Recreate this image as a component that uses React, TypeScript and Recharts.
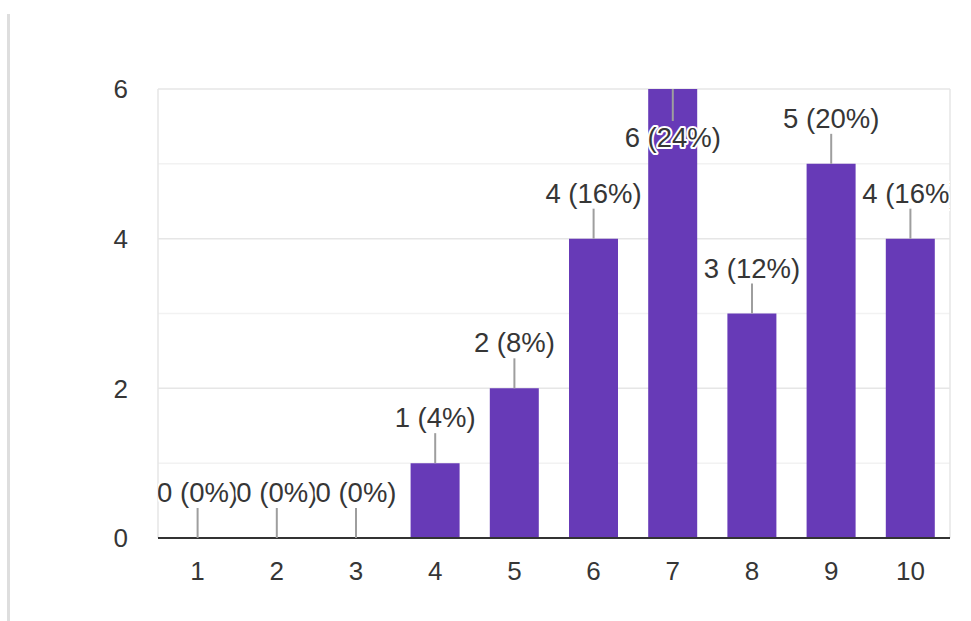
import { ComposedChart, Bar, Line, XAxis, YAxis, CartesianGrid } from 'recharts'

const ratings = ['1', '2', '3', '4', '5', '6', '7', '8', '9', '10']
const responses = [0, 0, 0, 1, 2, 4, 6, 3, 5, 4]
const majorTicks = [0, 2, 4, 6]
const minorTicks = [1, 3, 5]

const totalResponses = responses.reduce((a, b) => a + b, 0)
const data = ratings.map((rating, i) => ({ rating, count: responses[i] }))

const WIDTH = 971
const HEIGHT = 621
const MARGIN = { top: 89, right: 21, left: 98, bottom: 43 }
const PLOT_LEFT = MARGIN.left + 60
const PLOT_RIGHT = WIDTH - MARGIN.right
const PLOT_TOP = MARGIN.top

const FONT = '"Liberation Sans", Arial, sans-serif'
const TEXT = '#363636'
const PURPLE = '#673ab7'

// value label with a short leader line; drawn as the "dot" of an invisible line
// so that zero counts get a label too
function BarLabel(props: any) {
  const cx = Number(props.cx)
  const y = Number(props.cy)
  const value = Number(props.value)
  const index = props.index
  const pct = Math.round((value / totalResponses) * 100)
  // labels that would poke out above the plot go inside the bar instead
  const inside = y - 56 < PLOT_TOP
  const lineY1 = inside ? y : y - 30
  const lineY2 = inside ? y + 32 : y
  const textY = inside ? y + 58 : y - 36
  const clipId = `bar-label-clip-${index}`
  return (
    <g key={`label-${index}`}>
      <defs>
        <clipPath id={clipId}>
          <rect x={PLOT_LEFT} y={0} width={PLOT_RIGHT - PLOT_LEFT} height={HEIGHT} />
        </clipPath>
      </defs>
      <g clipPath={`url(#${clipId})`}>
        <line x1={cx} x2={cx} y1={lineY1} y2={lineY2} stroke="#9e9e9e" strokeWidth={2} />
        <text
          x={cx}
          y={textY}
          textAnchor="middle"
          fontFamily={FONT}
          fontSize={27.5}
          fill={TEXT}
          stroke="#fff"
          strokeWidth={4}
          strokeLinejoin="round"
          paintOrder="stroke"
        >
          {`${value} (${pct}%)`}
        </text>
      </g>
    </g>
  )
}

export default function App() {
  return (
    <div style={{ position: 'absolute', left: 0, top: 0, width: WIDTH, height: HEIGHT, background: '#fff' }}>
      <div
        style={{
          position: 'absolute',
          left: 7,
          top: 14,
          width: 3,
          bottom: 0,
          background: '#dedede',
        }}
      />
      <ComposedChart width={WIDTH} height={HEIGHT} data={data} margin={MARGIN} barSize={49}>
        {/* faint lines at the odd counts */}
        <CartesianGrid
          stroke="#f2f2f2"
          strokeWidth={1.5}
          vertical={false}
          horizontalCoordinatesGenerator={({ offset }: any) =>
            minorTicks.map((t) => offset.top + offset.height * (1 - t / majorTicks[majorTicks.length - 1]))
          }
        />
        <CartesianGrid
          stroke="#e6e6e6"
          strokeWidth={1.5}
          verticalCoordinatesGenerator={({ offset }: any) => [offset.left, offset.left + offset.width]}
        />
        <XAxis
          dataKey="rating"
          axisLine={{ stroke: '#333', strokeWidth: 2 }}
          tickLine={false}
          tickMargin={18}
          height={40}
          tick={{ fontSize: 26, fill: TEXT, fontFamily: FONT }}
        />
        <YAxis
          domain={[0, 6]}
          ticks={majorTicks}
          width={60}
          axisLine={false}
          tickLine={false}
          tickMargin={24}
          tick={{ fontSize: 26, fill: TEXT, fontFamily: FONT }}
        />
        <Bar dataKey="count" fill={PURPLE} isAnimationActive={false} />
        <Line
          dataKey="count"
          stroke="none"
          dot={BarLabel}
          activeDot={false}
          isAnimationActive={false}
        />
      </ComposedChart>
    </div>
  )
}
